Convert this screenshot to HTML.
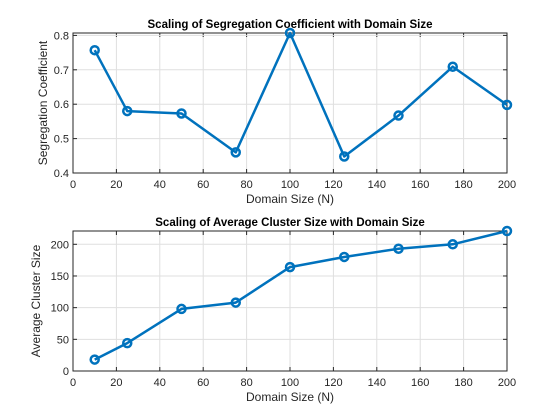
<!DOCTYPE html>
<html><head><meta charset="utf-8"><style>
html,body{margin:0;padding:0;background:#fff;}
svg{display:block;font-family:"Liberation Sans",Arial,sans-serif;}
</style></head><body>
<svg id="c" width="560" height="420" viewBox="0 0 560 420"></svg>
<script>
const xValues=[10,25,50,75,100,125,150,175,200];
const segValues=[0.757,0.580,0.573,0.460,0.807,0.448,0.567,0.709,0.598];
const clusterValues=[18,44,98,108,164,180,193,200,221];
const xTicks=[0,20,40,60,80,100,120,140,160,180,200];
const segTicks=[0.4,0.5,0.6,0.7,0.8];
const clusterTicks=[0,50,100,150,200];
const svg=document.getElementById('c');
const NS='http://www.w3.org/2000/svg';
function mk(t,a,p){const e=document.createElementNS(NS,t);for(const k in a)e.setAttribute(k,a[k]);(p||svg).appendChild(e);return e;}
function panel(cfg){
  const g=mk('g',{});
  
  
  const L=73,R=507,T=cfg.top,B=cfg.bottom;
  const sx=v=>L+(v-0)/(200-0)*(R-L);
  const sy=v=>B-(v-cfg.ymin)/(cfg.ymax-cfg.ymin)*(B-T);
  mk('rect',{x:L,y:T,width:R-L,height:B-T,fill:'#fff'},g);
  xTicks.forEach(t=>{
    const x=sx(t);
    const gl=mk('line',{x1:x,x2:x,y1:T,y2:B,stroke:'#dfdfdf','stroke-width':1},g);
    
    
    mk('line',{x1:x,x2:x,y1:B,y2:B-4,stroke:'#262626'},g);
    mk('line',{x1:x,x2:x,y1:T,y2:T+4,stroke:'#262626'},g);
    const tx=mk('text',{x:x,y:B+15,'text-anchor':'middle','font-size':11,fill:'#262626'},g);
    tx.textContent=t;
    
    
  });
  cfg.ticks.forEach(t=>{
    const y=sy(t);
    const gl=mk('line',{x1:L,x2:R,y1:y,y2:y,stroke:'#dfdfdf','stroke-width':1},g);
    
    
    mk('line',{x1:L,x2:L+4,y1:y,y2:y,stroke:'#262626'},g);
    mk('line',{x1:R,x2:R-4,y1:y,y2:y,stroke:'#262626'},g);
    const tx=mk('text',{x:L-4,y:y+4,'text-anchor':'end','font-size':11,fill:'#262626'},g);
    tx.textContent=cfg.fmt(t);
    
    
  });
  mk('rect',{x:L,y:T,width:R-L,height:B-T,fill:'none',stroke:'#262626','stroke-width':1},g);
  const pts=xValues.map((x,i)=>sx(x)+','+sy(cfg.values[i])).join(' ');
  const line=mk('polyline',{points:pts,fill:'none',stroke:'#0072bd','stroke-width':2.5,'stroke-linejoin':'round'},g);
  
  
  xValues.forEach((x,i)=>{
    const c=mk('circle',{cx:sx(x),cy:sy(cfg.values[i]),r:4,fill:'none',stroke:'#0072bd','stroke-width':2.5},g);
    
    
  });
  const ti=mk('text',{x:(L+R)/2,y:T-5,'text-anchor':'middle','font-size':11.5,'font-weight':'bold',fill:'#000'},g);
  ti.textContent=cfg.title;
  
  
  const xl=mk('text',{x:(L+R)/2,y:B+30,'text-anchor':'middle','font-size':12,fill:'#262626'},g);
  xl.textContent='Domain Size (N)';
  
  
  const yl=mk('text',{x:0,y:0,'text-anchor':'middle','font-size':12,fill:'#262626',transform:`translate(${cfg.ylx},${(T+B)/2}) rotate(-90)`},g);
  yl.textContent=cfg.ylabel;
  
  
}
panel({name:'segregation-panel',top:33,bottom:173,ymin:0.4,ymax:0.807,values:segValues,ticks:segTicks,fmt:t=>t.toFixed(1),title:'Scaling of Segregation Coefficient with Domain Size',ylabel:'Segregation Coefficient',ylx:47});
panel({name:'cluster-panel',top:231,bottom:371,ymin:0,ymax:221,values:clusterValues,ticks:clusterTicks,fmt:t=>t,title:'Scaling of Average Cluster Size with Domain Size',ylabel:'Average Cluster Size',ylx:40});
</script>
</body></html>
